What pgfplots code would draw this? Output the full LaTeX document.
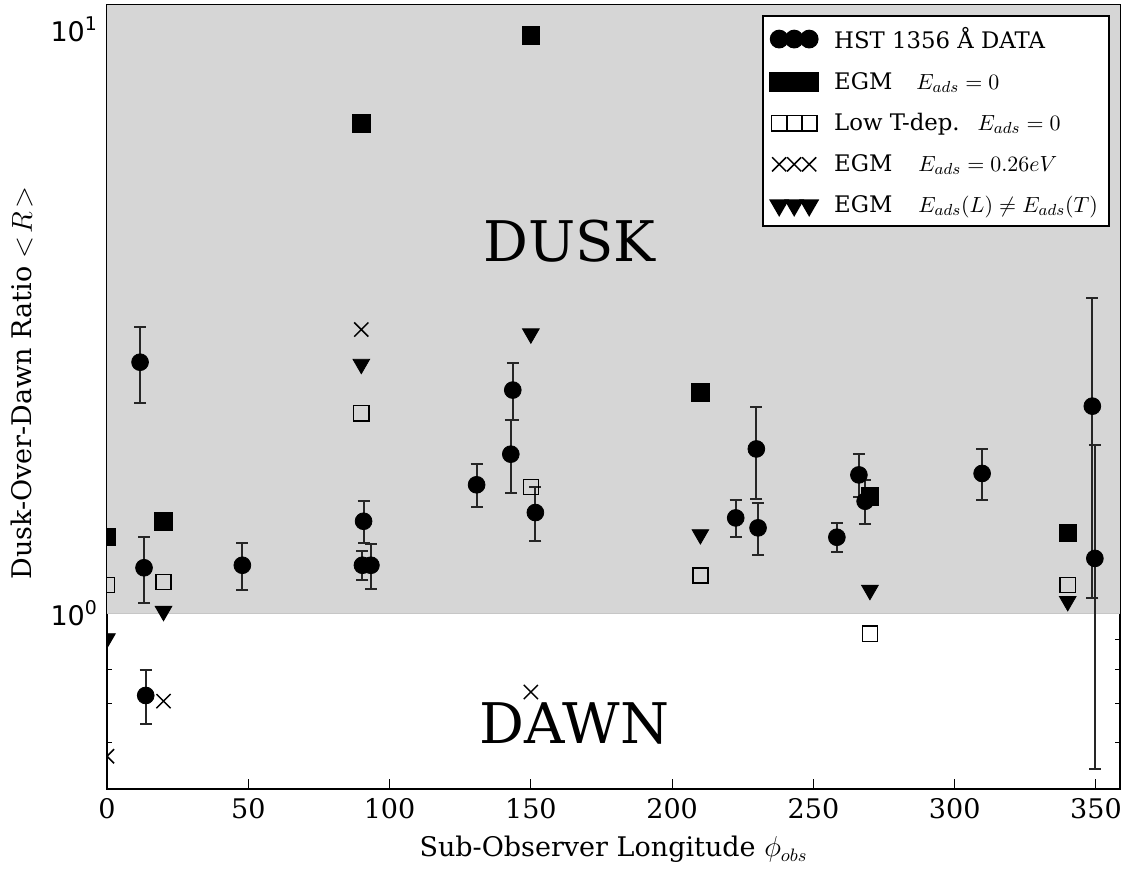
\documentclass[border=0pt]{standalone}
\usepackage{pgfplots}
\pgfplotsset{compat=1.18}
\usepackage{fontspec}
\setmainfont{DejaVu Serif}
\newfontfamily\djsans{DejaVu Sans}
\definecolor{shade}{HTML}{D6D6D6}
\pgfplotsset{three marks/.style={legend image code/.code={\draw[mark repeat=1,mark phase=1,##1] plot coordinates {(0pt,0pt)(7.5pt,0pt)(15pt,0pt)};\path (25pt,0pt);}}}
\pgfplotstableread{
x y e
11.7 2.69 0.40
13.1 1.196 0.155
13.7 0.723 0.077
47.9 1.208 0.111
90.8 1.437 0.118
90.4 1.208 0.070
93.4 1.208 0.108
130.8 1.659 0.139
143.6 2.41 0.27
142.9 1.872 0.268
151.6 1.487 0.16
222.5 1.456 0.104
229.8 1.911 0.345
230.4 1.40 0.143
258.3 1.349 0.077
266.1 1.725 0.145
268.3 1.555 0.135
309.7 1.735 0.173
348.7 2.262 1.20
349.6 1.241 0.70
}\hst
\begin{document}
\begin{tikzpicture}
\begin{axis}[
  at={(0,0)}, anchor=south west,
  scale only axis, width=506.5pt, height=392pt,
  ymode=log, xmin=0, xmax=358.5, ymin=0.5, ymax=11,
  xtick={0,50,...,350},
  ytick={1,10},
  yticklabels={10\textsuperscript{0},10\textsuperscript{1}},
  minor ytick={0.5,0.6,0.7,0.8,0.9,2,3,4,5,6,7,8,9},
  tick align=inside,
  major tick length=5pt, minor tick length=2.5pt,
  tick style={black, line width=0.5pt},
  axis line style={line width=1pt},
  /pgf/number format/assume math mode=true,
  x tick label style={font=\fontsize{13.5}{15}\selectfont, yshift=-1pt},
  y tick label style={font=\djsans\fontsize{13.5}{15}\selectfont, xshift=-1pt},
  clip marker paths=true,
  xlabel={Sub-Observer Longitude $\phi_{obs}$},
  ylabel={Dusk-Over-Dawn Ratio $<\!R\!>$},
  label style={font=\fontsize{13.5}{15}\selectfont},
  x label style={at={(axis description cs:0.5,-0.0864)}, anchor=base},
  y label style={at={(axis description cs:-0.084,0.518)}, anchor=center},
  legend style={at={(1,1)}, anchor=north east, xshift=-5pt, yshift=-5pt,
    draw=black, line width=1pt, font=\fontsize{11.4}{13}\selectfont,
    row sep=6.5pt, inner sep=3.5pt},
  legend cell align=left,
]
\addplot[draw=none, fill=shade, forget plot] coordinates {(0,1) (358.5,1) (358.5,11) (0,11)} -- cycle;
\addplot[gray!45, line width=0.5pt, forget plot] coordinates {(0,1) (358.5,1)};
\addplot[black, only marks, three marks, mark=*, mark size=4.2pt,
  error bars/.cd, y dir=both, y explicit,
  error bar style={line width=1pt, black!85},
  error mark options={rotate=90, mark size=3pt, line width=1pt, black!85}]
  table[x=x, y=y, y error=e] {\hst};
\addlegendentry{HST 1356 Å DATA}
\addplot[black, only marks, three marks, mark=square*, mark size=4.4pt] coordinates {
(0,1.35) (20,1.437) (90,6.9) (150,9.76) (210,2.39) (270,1.586) (340,1.373)};
\addlegendentry{EGM\hspace{12pt}$E_{ads}=0$}
\addplot[black, only marks, three marks, mark=square, mark size=3.8pt, mark options={fill=white, line width=0.75pt}] coordinates {
(0,1.117) (20,1.131) (90,2.2) (150,1.645) (210,1.16) (270,0.922) (340,1.117)};
\addlegendentry{Low T-dep.\hspace{9pt}$E_{ads}=0$}
\addplot[black, only marks, three marks, mark=x, mark size=5pt, mark options={line width=0.75pt}] coordinates {
(0,0.569) (20,0.707) (90,3.06) (150,0.733)};
\addlegendentry{EGM\hspace{13pt}$E_{ads}=0.26eV$}
\addplot[black, only marks, three marks, mark=triangle*, mark size=4.8pt, mark options={rotate=180}] coordinates {
(0,0.905) (20,1.008) (90,2.67) (150,3.01) (210,1.364) (270,1.095) (340,1.048)};
\addlegendentry{EGM\hspace{13pt}$E_{ads}(L)\neq E_{ads}(T)$}
\node[font=\fontsize{28}{30}\selectfont] at (axis cs:163.6,4.33) {DUSK};
\node[font=\fontsize{28}{30}\selectfont] at (axis cs:165.4,0.648) {DAWN};
\end{axis}
\pgfresetboundingbox
\path (-53.5pt,-41pt) rectangle (509pt,394.5pt);
\end{tikzpicture}
\end{document}
